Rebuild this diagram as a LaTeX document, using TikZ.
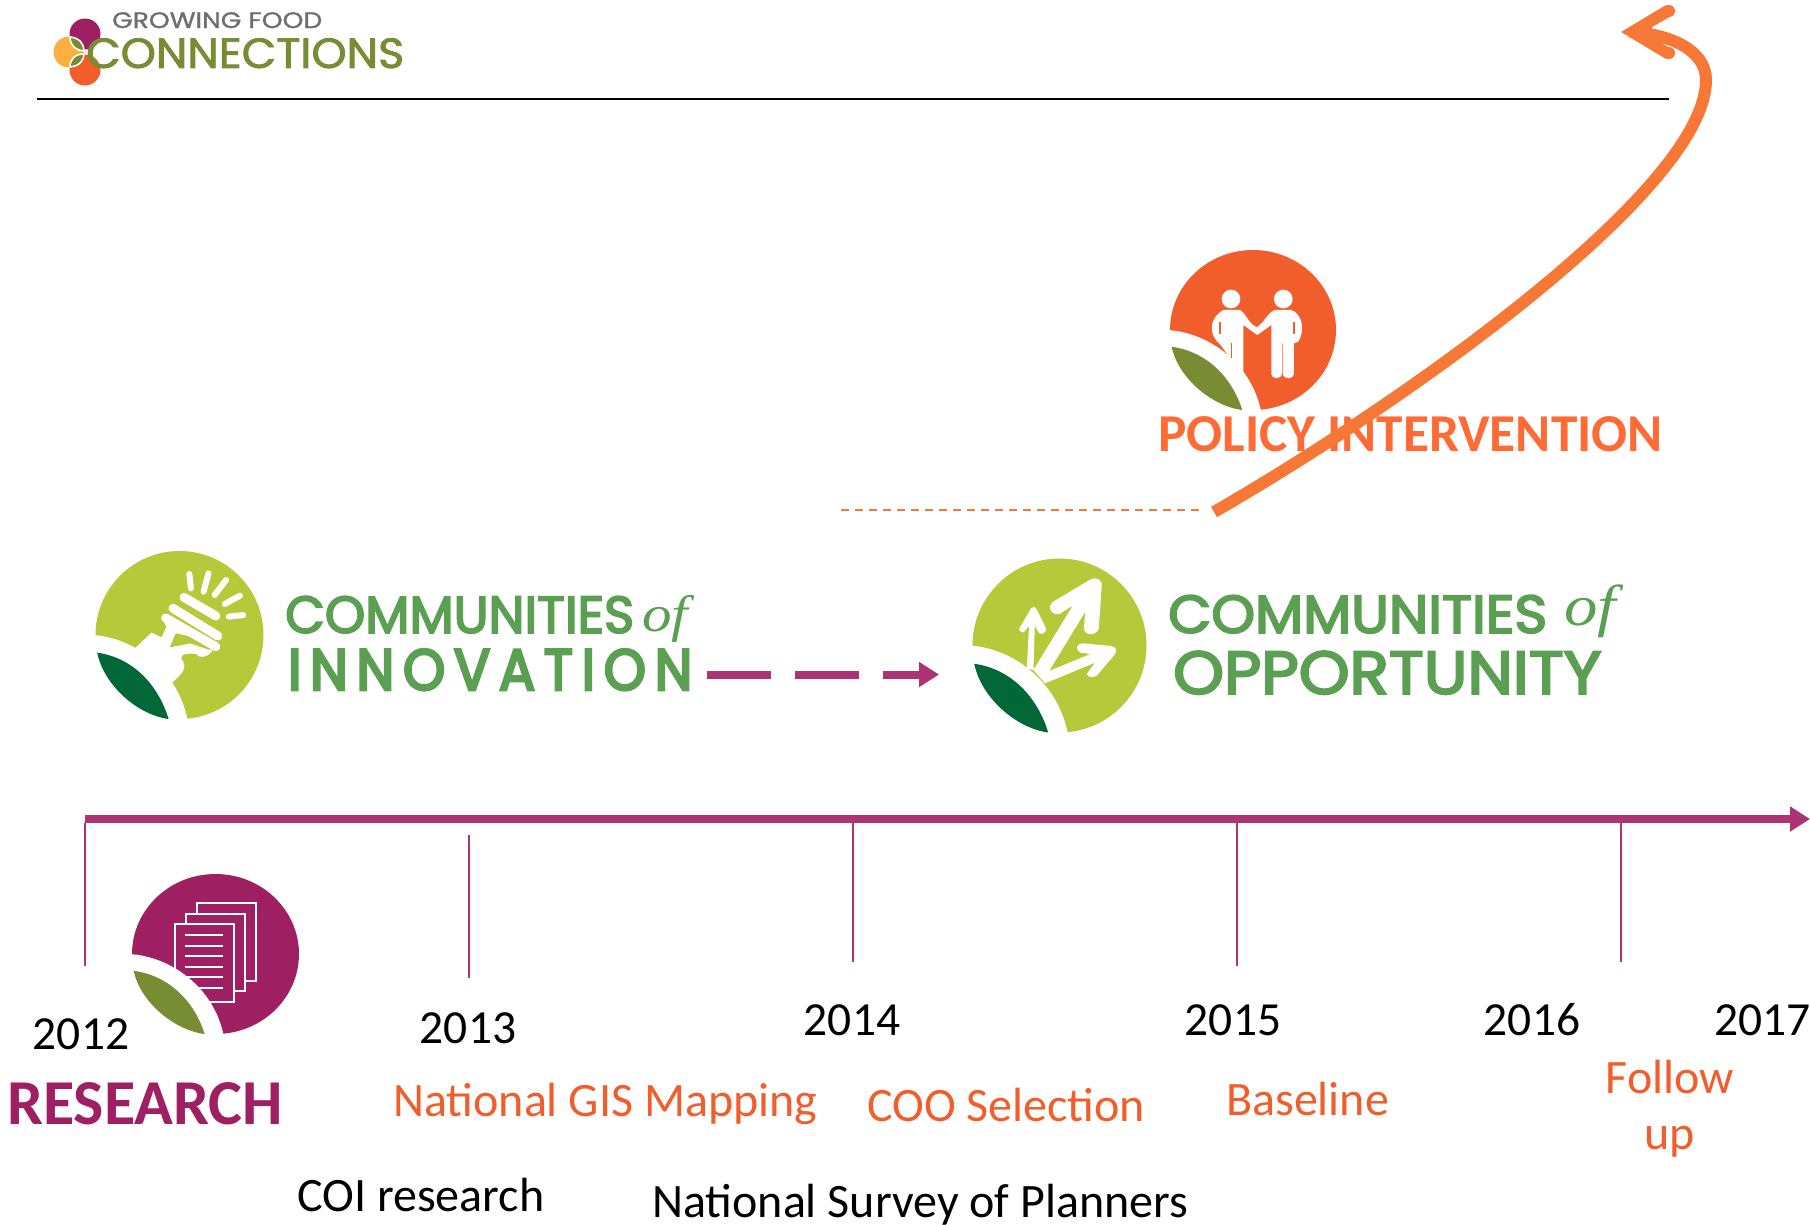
\documentclass[tikz,border=0pt]{standalone}
\usepackage{graphicx}
\usepackage{fontspec}
\usetikzlibrary{arrows.meta}
\setmainfont{Carlito}
\newfontfamily\logofont[RawFeature={embolden=3.5}]{Poppins}
\newfontfamily\logowide[RawFeature={embolden=5}]{Poppins}
\newfontfamily\logotop[RawFeature={embolden=2}]{Poppins}
\newfontfamily\logomid[RawFeature={embolden=1.2}]{Poppins}
\newfontfamily\ofont{Liberation Serif}
\definecolor{plum}{HTML}{9F1F63}
\definecolor{axisplum}{HTML}{AE3375}
\definecolor{flame}{HTML}{F15D2B}
\definecolor{policytxt}{HTML}{FF6B35}
\definecolor{arroworange}{HTML}{F77736}
\definecolor{olive}{HTML}{788C34}
\definecolor{lime}{HTML}{B5C93A}
\definecolor{darkleaf}{HTML}{006838}
\definecolor{logogreen}{HTML}{5A9F52}
\definecolor{logogray}{HTML}{6D6E71}
\definecolor{amber}{HTML}{FBB040}
\newcommand\fitted[3]{\resizebox*{#1pt}{#2pt}{#3}}
\newcommand\icondisc[5]{\fill[#5] (#1,#2) ellipse [x radius=#3, y radius=#4];}
\newcommand\iconband[5]{\begin{scope}[shift={(#1,#2)},x=#3pt,y=-#4pt]
\fill[white] (-1.03,0) .. controls (-.55,.03) and (-.02,.4) .. (.1,1.03) -- (-1.05,1.05) -- cycle;
\fill[#5] (-.98,.21) .. controls (-.55,.27) and (-.25,.6) .. (-.13,1) .. controls (-.5,.95) and (-.9,.6) .. cycle;
\end{scope}}
\tikzset{
 year/.style={anchor=base,inner sep=0,font=\fontsize{47.5}{47.5}\selectfont,text=black},
 note/.style={anchor=base west,inner sep=0,font=\fontsize{48}{48}\selectfont,text=flame},
 blacknote/.style={note,text=black},
 logotxt/.style={anchor=north west,inner sep=0,text=logogreen},
 tick/.style={axisplum,line width=1.7pt},
 ray/.style={white,line cap=round,line width=6pt},
}
\begin{document}
\begin{tikzpicture}[x=1pt,y=-1pt]
\useasboundingbox (0,0) rectangle (1810,1224);
% top logo
\fill[plum] (85,34) circle (15.5);
\fill[amber] (69,52) circle (15.5);
\fill[flame] (85,70) circle (15.5);
\draw[white,line width=1.6pt,fill=olive] (70,37) .. controls (80,38) and (84,44) .. (84,51) .. controls (75,50) and (70,45) .. cycle;
\draw[white,line width=1.6pt,fill=olive] (70,67) .. controls (80,66) and (84,60) .. (84,54) .. controls (75,54) and (70,59) .. cycle;
\node[anchor=north west,inner sep=0,text=logogray] (gftxt) at (112,12) {\fitted{210}{16}{\logomid GROWING FOOD}};
\node[anchor=north west,inner sep=0,text=olive] (conntxt) at (86,38) {\fitted{318}{30}{\logotop CONNECTIONS}};
\coordinate (ruleL) at (37,99);
\coordinate (ruleR) at (1669,99);
\draw[black,line width=1.7pt] (ruleL) -- (ruleR);
% policy icon
\icondisc{1253}{330}{83}{80}{flame}
\begin{scope}[shift={(1130,230)},x=.3333pt,y=-.3333pt]
\fill[white] (303,207) circle [x radius=28,y radius=28];
\fill[white] (460,207) circle [x radius=28,y radius=28];
\fill[white] (280,240) -- (330,240) .. controls (345,245) and (350,275) .. (380,292) .. controls (405,275) and (415,245) .. (435,240) -- (485,240) .. controls (510,250) and (530,290) .. (505,335) -- (492,340) -- (492,430) .. controls (490,450) and (460,450) .. (458,430) -- (458,340) -- (456,340) -- (456,430) .. controls (454,450) and (425,450) .. (424,430) -- (424,285) -- (382,315) -- (340,285) -- (340,440) -- (272,345) .. controls (240,320) and (230,270) .. cycle;
\draw[flame,line width=1.2pt] (270,275) -- (270,312) (492,275) -- (492,312) (305,340) -- (305,385);
\end{scope}
\iconband{1253}{330}{83}{80}{olive}
\node[anchor=base west,inner sep=0,text=policytxt,font=\fontsize{53.3}{53.3}\selectfont\bfseries] (policy) at (1158,451) {POLICY INTERVENTION};
\coordinate (dashL) at (841,510);
\coordinate (dashR) at (1201,510);
\draw[arroworange,line width=1.7pt,dash pattern=on 8pt off 6pt] (dashL) -- (dashR);
\coordinate (curveA) at (1214,512);
\coordinate (curveC) at (1706,80);
\coordinate (curveD) at (1630,32);
\draw[arroworange,line width=12pt] (curveA) .. controls (1400,405) and (1706,190) .. (curveC) .. controls (1706,50) and (1670,34) .. (curveD);
\coordinate (tipA) at (1621,32);
\fill[arroworange] (tipA) -- (1666,5) -- (1673,15) -- (1652,27) -- (1652,37) -- (1660,42) -- (1673,50) -- (1666,59) -- cycle;
\fill[arroworange] (1669,11) circle (6);
\fill[arroworange] (1669,53) circle (6);
% COI icon
\icondisc{179.5}{635}{84}{84}{lime}
\begin{scope}[shift={(80,530)},x=.408pt,y=-.3333pt]
\draw[ray] (268,132) -- (272,175);
\draw[ray] (315,130) -- (303,185);
\draw[ray] (358,150) -- (330,195);
\draw[ray] (392,197) -- (355,222);
\draw[ray] (400,255) -- (365,260);
\draw[ray,line width=9pt] (255,202) -- (333,258);
\draw[ray,line width=9pt] (228,235) -- (338,318);
\fill[white] (135,355) -- (175,308) -- (200,322) -- (212,290) -- (200,262) .. controls (215,250) and (240,290) .. (325,362) .. controls (310,385) and (290,385) .. (285,372) .. controls (270,370) and (245,370) .. (248,385) .. controls (262,410) and (258,425) .. (225,458) -- cycle;
\fill[lime] (235,310) -- (220,352) -- (270,340) -- (318,360) -- (330,335) -- cycle;
\draw[ray,line width=9pt] (210,264) -- (333,350);
\end{scope}
\iconband{179.5}{635}{84}{84}{darkleaf}
\node[logotxt] (coi1) at (285,596) {\fitted{349}{37}{\logofont COMMUNITIES}};
\node[anchor=north west,inner sep=0,text=logogreen] (coiof) at (642,595) {\fitted{46}{47}{\ofont\itshape of}};
\node[logotxt] (coi2) at (288,649) {\fitted{404}{41}{\logowide I\,N\,N\,O\,V\,A\,T\,I\,O\,N}};
% COO icon
\icondisc{1059.5}{645.5}{87}{87}{lime}
\begin{scope}[shift={(950,540)},x=.4464pt,y=-.3333pt]
\fill[white] (172,385) -- (177,258) -- (165,277) .. controls (150,275) and (155,262) .. (160,255) -- (180,208) .. controls (185,198) and (192,200) .. (195,210) -- (215,265) .. controls (215,285) and (200,285) .. (197,275) -- (190,255) -- (187,390) -- cycle;
\fill[white] (187,390) -- (275,197) -- (245,222) .. controls (225,228) and (215,195) .. (235,182) -- (315,118) .. controls (330,108) and (342,125) .. (340,135) -- (333,268) .. controls (325,290) and (300,285) .. (300,265) -- (303,215) -- (222,393) -- (315,342) -- (292,338) .. controls (278,325) and (285,310) .. (298,310) -- (360,318) .. controls (375,322) and (375,335) .. (368,345) -- (328,408) .. controls (315,418) and (300,405) .. (310,395) -- (325,368) -- (213,430) -- cycle;
\end{scope}
\iconband{1059.5}{645.5}{87}{87}{darkleaf}
\node[logotxt] (coo1) at (1168,595) {\fitted{379}{38}{\logofont COMMUNITIES}};
\node[anchor=north west,inner sep=0,text=logogreen] (cooof) at (1564,585) {\fitted{52}{53}{\ofont\itshape of}};
\node[logotxt] (coo2) at (1173,651) {\fitted{428}{43}{\logofont OPPORTUNITY}};
\coordinate (flowA) at (707,674.5);
\coordinate (flowB) at (939,674.5);
\draw[axisplum,line width=8pt,dash pattern=on 64pt off 24pt,-{Triangle[length=20pt,width=24pt]}] (flowA) -- (flowB);
% timeline
\coordinate (axisL) at (85,819);
\coordinate (axisR) at (1810,819);
\draw[axisplum,line width=8pt,-{Triangle[length=20pt,width=24pt]}] (axisL) -- (axisR);
\coordinate (t0a) at (85,823); \coordinate (t0b) at (85,966);
\coordinate (t1a) at (469,835); \coordinate (t1b) at (469,978);
\coordinate (t2a) at (853,823); \coordinate (t2b) at (853,962);
\coordinate (t3a) at (1237,823); \coordinate (t3b) at (1237,966);
\coordinate (t4a) at (1621,823); \coordinate (t4b) at (1621,962);
\draw[tick] (t0a) -- (t0b);
\draw[tick] (t1a) -- (t1b);
\draw[tick] (t2a) -- (t2b);
\draw[tick] (t3a) -- (t3b);
\draw[tick] (t4a) -- (t4b);
% research icon
\icondisc{215.5}{954}{83.5}{80}{plum}
\begin{scope}[shift={(60,800)},x=.3333pt,y=-.3333pt]
\draw[white,line width=2pt,fill=plum] (410,310) rectangle (587,542);
\draw[white,line width=2pt,fill=plum] (377,342) rectangle (555,573);
\draw[white,line width=2pt,fill=plum] (345,373) rectangle (522,605);
\draw[white,line width=2pt] (375,405) -- (490,405) (375,437) -- (490,437) (375,468) -- (490,468) (375,500) -- (490,500) (375,532) -- (490,532) (375,563) -- (490,563);
\end{scope}
\iconband{215.5}{954}{83.5}{80}{olive}
% labels
\node[year] (y12) at (81,1049) {2012};
\node[year] (y13) at (468,1043) {2013};
\node[year] (y14) at (852,1035) {2014};
\node[year] (y15) at (1233,1035) {2015};
\node[year] (y16) at (1532,1035) {2016};
\node[year,anchor=base west] (y17) at (1714,1035) {2017};
\node[anchor=base west,inner sep=0,text=plum,font=\fontsize{64}{64}\selectfont\bfseries] (research) at (7,1124) {RESEARCH};
\node[note] (gis) at (393,1116) {National GIS Mapping};
\node[note] (coosel) at (867,1121) {COO Selection};
\node[note] (base) at (1226,1115) {Baseline};
\node[note,anchor=base] (follow) at (1670,1093) {Follow};
\node[note,anchor=base] (up) at (1670,1149) {up};
\node[blacknote] (coires) at (297,1211) {COI research};
\node[blacknote] (survey) at (652,1217) {National Survey of Planners};
\end{tikzpicture}
\end{document}
